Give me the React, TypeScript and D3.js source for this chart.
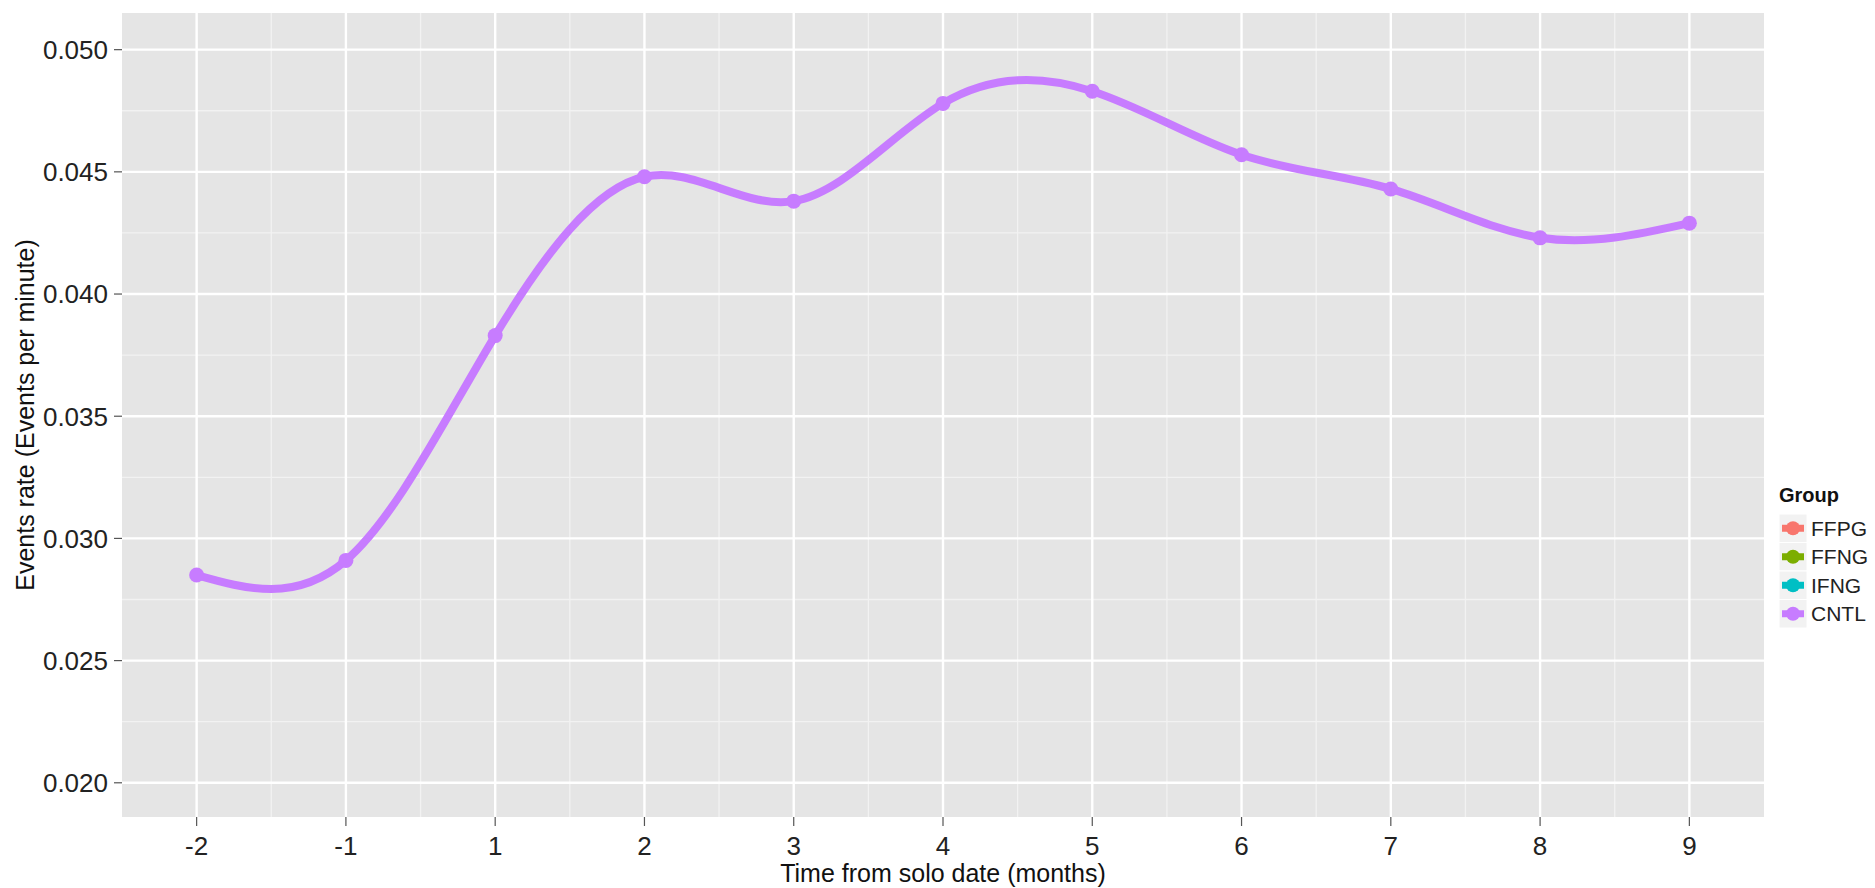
import React from "react";
import * as d3 from "d3";

const categories = ["-2", "-1", "1", "2", "3", "4", "5", "6", "7", "8", "9"];
const cntlValues = [0.0285, 0.0291, 0.0383, 0.0448, 0.0438, 0.0478, 0.0483, 0.0457, 0.0443, 0.0423, 0.0429];
const yTicks = [0.02, 0.025, 0.03, 0.035, 0.04, 0.045, 0.05];
const yMinor = [0.0225, 0.0275, 0.0325, 0.0375, 0.0425, 0.0475];
const groups = ["FFPG", "FFNG", "IFNG", "CNTL"];
const groupColors = ["#F8766D", "#7CAE00", "#00BFC4", "#C77CFF"];

const W = 1875;
const H = 888;
const panel = { left: 122, right: 1764, top: 13, bottom: 817 };
const FONT = "'Liberation Sans', Arial, sans-serif";

export default function App() {
  const x = d3.scaleLinear().domain([-0.5, categories.length - 0.5]).range([panel.left, panel.right]);
  const y = d3.scaleLinear().domain([0.0186, 0.0515]).range([panel.bottom, panel.top]);
  const pts: [number, number][] = cntlValues.map((v, i) => [x(i), y(v)]);
  const line = d3.line().curve(d3.curveNatural)(pts) || "";
  const xMinor = d3.range(categories.length - 1).map((i) => i + 0.5);
  const col = groupColors[3];

  const legX = 1779;
  const legItemTop = 514;
  const keyH = 28.5;
  const keyW = 28;

  return (
    <svg width={W} height={H} style={{ display: "block", position: "absolute", left: 0, top: 0 }}>
      <rect x={0} y={0} width={W} height={H} fill="#ffffff" />
      <rect x={panel.left} y={panel.top} width={panel.right - panel.left} height={panel.bottom - panel.top} fill="#E5E5E5" />
      {yMinor.map((v) => (
        <line key={"ym" + v} x1={panel.left} x2={panel.right} y1={y(v)} y2={y(v)} stroke="#F2F2F2" strokeWidth={1.3} />
      ))}
      {xMinor.map((v) => (
        <line key={"xm" + v} x1={x(v)} x2={x(v)} y1={panel.top} y2={panel.bottom} stroke="#F2F2F2" strokeWidth={1.3} />
      ))}
      {yTicks.map((v) => (
        <line key={"yM" + v} x1={panel.left} x2={panel.right} y1={y(v)} y2={y(v)} stroke="#ffffff" strokeWidth={2.4} />
      ))}
      {categories.map((c, i) => (
        <line key={"xM" + c} x1={x(i)} x2={x(i)} y1={panel.top} y2={panel.bottom} stroke="#ffffff" strokeWidth={2.4} />
      ))}
      <path d={line} fill="none" stroke={col} strokeWidth={8} strokeLinejoin="round" strokeLinecap="round" />
      {pts.map((p, i) => (
        <circle key={"pt" + i} cx={p[0]} cy={p[1]} r={7.5} fill={col} />
      ))}
      {/* y axis */}
      {yTicks.map((v) => (
        <g key={"yt" + v}>
          <line x1={panel.left - 8} x2={panel.left} y1={y(v)} y2={y(v)} stroke="#555" strokeWidth={1.2} />
          <text x={panel.left - 14} y={y(v)} dy="0.36em" textAnchor="end" fontFamily={FONT} fontSize={26} fill="#222">
            {d3.format(".3f")(v)}
          </text>
        </g>
      ))}
      {/* x axis */}
      {categories.map((c, i) => (
        <g key={"xt" + c}>
          <line x1={x(i)} x2={x(i)} y1={panel.bottom} y2={panel.bottom + 9} stroke="#555" strokeWidth={1.2} />
          <text x={x(i)} y={panel.bottom + 38} textAnchor="middle" fontFamily={FONT} fontSize={26} fill="#222">
            {c}
          </text>
        </g>
      ))}
      <text x={(panel.left + panel.right) / 2} y={882} textAnchor="middle" fontFamily={FONT} fontSize={25} fill="#111">
        Time from solo date (months)
      </text>
      <text
        transform={`translate(34, ${(panel.top + panel.bottom) / 2}) rotate(-90)`}
        textAnchor="middle"
        fontFamily={FONT}
        fontSize={25}
        fill="#111"
      >
        Events rate (Events per minute)
      </text>
      {/* legend */}
      <text x={legX} y={legItemTop - 12} fontFamily={FONT} fontSize={20} fontWeight="bold" fill="#111">
        Group
      </text>
      {groups.map((g, i) => {
        const cy = legItemTop + i * keyH + keyH / 2;
        return (
          <g key={"lg" + g}>
            <rect x={legX} y={legItemTop + i * keyH} width={keyW} height={keyH} fill="#F2F2F2" stroke="#ffffff" strokeWidth={1} />
            <line x1={legX + 3} x2={legX + keyW - 3} y1={cy} y2={cy} stroke={groupColors[i]} strokeWidth={7} />
            <circle cx={legX + keyW / 2} cy={cy} r={7} fill={groupColors[i]} />
            <text x={legX + keyW + 4} y={cy} dy="0.36em" fontFamily={FONT} fontSize={21} fill="#222">
              {g}
            </text>
          </g>
        );
      })}
    </svg>
  );
}
